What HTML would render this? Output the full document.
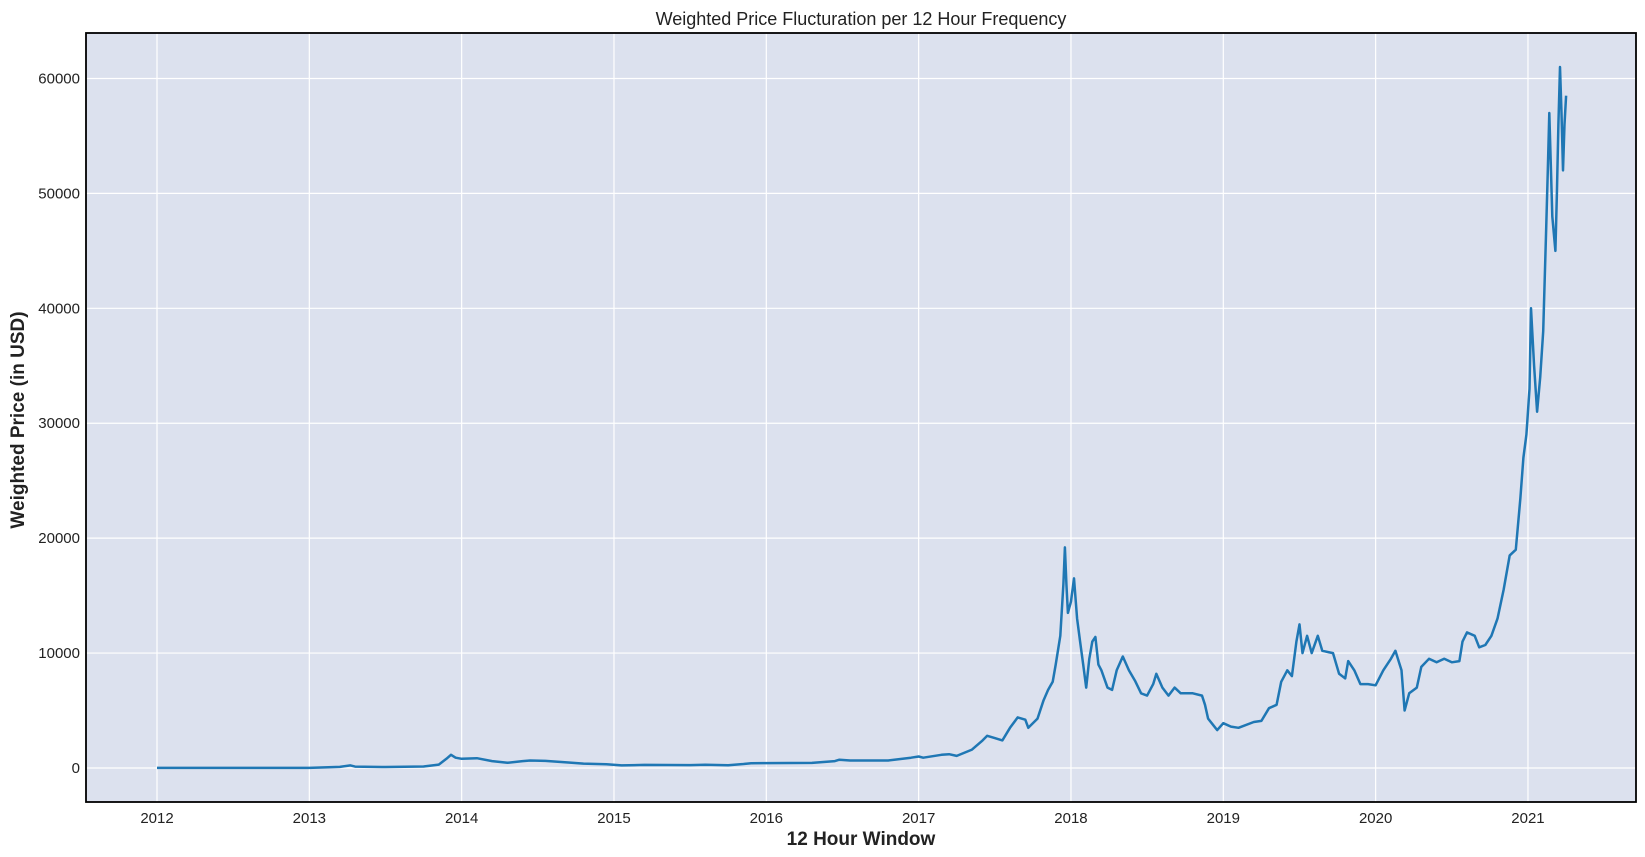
<!DOCTYPE html>
<html><head><meta charset="utf-8"><style>
html,body{margin:0;padding:0;background:#fff;}
svg{display:block;font-family:"Liberation Sans",sans-serif;}
</style></head><body>
<svg id="chart" width="1645" height="857">
<text x="861" y="25" text-anchor="middle" font-size="18" fill="#222">Weighted Price Flucturation per 12 Hour Frequency</text>
<rect x="86" y="33" width="1550" height="769" fill="#dce1ee"/>
<g id="grid"></g>
<g id="ticks"></g>
<path id="line" fill="none" stroke="#1f77b4" stroke-width="2.5" stroke-linejoin="round"/>
<rect x="86" y="33" width="1550" height="769" fill="none" stroke="#000" stroke-width="1.8"/>
<text x="861" y="845" text-anchor="middle" font-size="19" font-weight="bold" fill="#222">12 Hour Window</text>
<text transform="translate(24,420) rotate(-90)" text-anchor="middle" font-size="19" font-weight="bold" fill="#222">Weighted Price (in USD)</text>
</svg>
<script>
const xTicks=[2012,2013,2014,2015,2016,2017,2018,2019,2020,2021];
const yTicks=[0,10000,20000,30000,40000,50000,60000];
const dates=[2012.0,2012.5,2013.0,2013.2,2013.27,2013.3,2013.5,2013.75,2013.85,2013.9,2013.93,2013.96,2014.0,2014.1,2014.2,2014.3,2014.4,2014.45,2014.55,2014.7,2014.8,2014.95,2015.05,2015.2,2015.5,2015.6,2015.75,2015.85,2015.9,2016.0,2016.3,2016.45,2016.48,2016.55,2016.8,2016.95,2017.0,2017.03,2017.15,2017.2,2017.25,2017.35,2017.42,2017.45,2017.5,2017.55,2017.6,2017.65,2017.7,2017.72,2017.78,2017.82,2017.85,2017.88,2017.9,2017.93,2017.95,2017.96,2017.97,2017.98,2018.0,2018.02,2018.04,2018.06,2018.08,2018.1,2018.12,2018.14,2018.16,2018.18,2018.2,2018.24,2018.27,2018.3,2018.34,2018.38,2018.42,2018.46,2018.5,2018.54,2018.56,2018.6,2018.64,2018.68,2018.72,2018.8,2018.86,2018.88,2018.9,2018.93,2018.96,2019.0,2019.05,2019.1,2019.2,2019.25,2019.3,2019.35,2019.38,2019.42,2019.45,2019.48,2019.5,2019.52,2019.55,2019.58,2019.62,2019.65,2019.72,2019.76,2019.8,2019.82,2019.86,2019.9,2019.95,2020.0,2020.05,2020.1,2020.13,2020.17,2020.19,2020.22,2020.27,2020.3,2020.35,2020.4,2020.45,2020.5,2020.55,2020.57,2020.6,2020.65,2020.68,2020.72,2020.76,2020.8,2020.84,2020.88,2020.92,2020.95,2020.97,2020.99,2021.01,2021.02,2021.04,2021.06,2021.08,2021.1,2021.12,2021.13,2021.14,2021.16,2021.18,2021.19,2021.2,2021.21,2021.22,2021.23,2021.24,2021.25];
const prices=[5,7,13,100,230,120,90,130,300,800,1150,900,800,850,600,450,600,650,620,480,380,330,230,270,250,280,240,350,420,430,440,600,720,650,650,900,1000,900,1150,1200,1050,1600,2400,2800,2600,2400,3500,4400,4200,3500,4300,5900,6800,7500,9000,11500,16000,19200,16000,13500,14500,16500,13000,11000,9000,7000,9500,11000,11400,9000,8500,7000,6800,8500,9700,8500,7600,6500,6300,7300,8200,7000,6300,7000,6500,6500,6300,5500,4300,3800,3300,3900,3600,3500,4000,4100,5200,5500,7500,8500,8000,11000,12500,10000,11500,10000,11500,10200,10000,8200,7800,9300,8500,7300,7300,7200,8500,9500,10200,8500,5000,6500,7000,8800,9500,9200,9500,9200,9300,11000,11800,11500,10500,10700,11500,13000,15500,18500,19000,23500,27000,29000,33000,40000,35000,31000,34000,38000,47000,52000,57000,48000,45000,50000,56000,61000,57000,52000,56000,58500];
const X=v=>157+(v-2012)*152.33;
const Y=v=>768-v*0.011492;
const ns="http://www.w3.org/2000/svg";
const grid=document.getElementById('grid'),ticks=document.getElementById('ticks');
xTicks.forEach(t=>{
 const l=document.createElementNS(ns,'line');
 l.setAttribute('x1',X(t));l.setAttribute('x2',X(t));l.setAttribute('y1',33);l.setAttribute('y2',802);
 l.setAttribute('stroke','#fff');l.setAttribute('stroke-width','1.2');
 
 
 grid.appendChild(l);
 const tx=document.createElementNS(ns,'text');
 tx.setAttribute('x',X(t));tx.setAttribute('y',823);tx.setAttribute('text-anchor','middle');tx.setAttribute('font-size','15');tx.setAttribute('fill','#222');
 tx.textContent=t;
 
 
 ticks.appendChild(tx);
});
yTicks.forEach(t=>{
 const l=document.createElementNS(ns,'line');
 l.setAttribute('x1',86);l.setAttribute('x2',1636);l.setAttribute('y1',Y(t));l.setAttribute('y2',Y(t));
 l.setAttribute('stroke','#fff');l.setAttribute('stroke-width','1.2');
 
 
 grid.appendChild(l);
 const tx=document.createElementNS(ns,'text');
 tx.setAttribute('x',80);tx.setAttribute('y',Y(t)+5);tx.setAttribute('text-anchor','end');tx.setAttribute('font-size','15');tx.setAttribute('fill','#222');
 tx.textContent=t;
 
 
 ticks.appendChild(tx);
});
document.getElementById('line').setAttribute('d',dates.map((d,i)=>(i?'L':'M')+X(d).toFixed(1)+','+Y(prices[i]).toFixed(1)).join(''));
</script>
</body></html>
